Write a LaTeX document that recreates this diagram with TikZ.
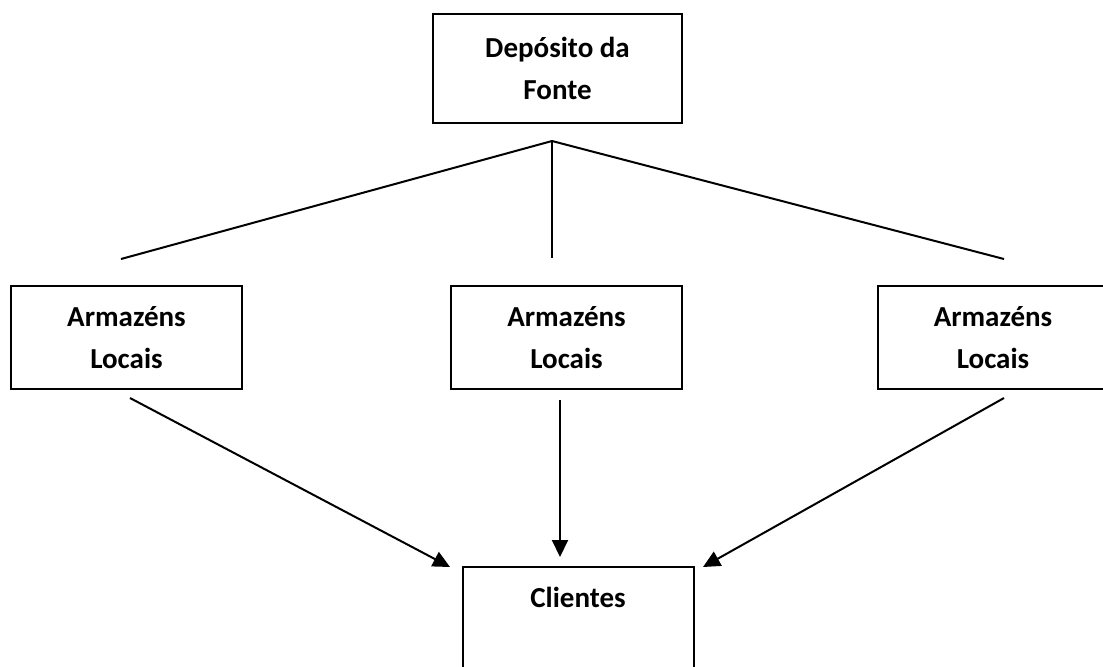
\documentclass[tikz,border=0pt]{standalone}
\usepackage{fontspec}
\setmainfont{Carlito}
\usetikzlibrary{arrows.meta}

\begin{document}
\begin{tikzpicture}[x=0.5pt,y=-0.5pt,line width=1pt,
    caixa/.style={draw,align=center,inner sep=0pt,
      font=\bfseries\fontsize{14.5}{21}\selectfont,
      minimum width=115.5pt,minimum height=51.5pt},
    seta/.style={-{Triangle[length=8.5pt,width=8pt]}}]
    \useasboundingbox (0,0) rectangle (1103,666);
    \clip (0,0) rectangle (1103,666);

    \node[caixa,minimum width=124.5pt,minimum height=54.5pt] (deposito) at (557.5,68.5) {Depósito da\\Fonte};
    \node[caixa] (arm1) at (126.5,337.5) {Armazéns\\Locais};
    \node[caixa] (arm2) at (566.5,337.5) {Armazéns\\Locais};
    \node[caixa] (arm3) at (993,337.5) {Armazéns\\Locais};
    \node[caixa] (clientes) at (578,618.5) {Clientes\\\mbox{}};

    % ramos do deposito
    \coordinate (topo) at (552,141);
    \coordinate (r1) at (121,259);
    \coordinate (r2) at (552,258);
    \coordinate (r3) at (1004,259);
    \draw (topo) -- (r1);
    \draw (topo) -- (r2);
    \draw (topo) -- (r3);

    % setas para os clientes
    \coordinate (s1) at (130,398);
    \coordinate (s2) at (560,400);
    \coordinate (s3) at (1004,398);
    \coordinate (e1) at (450,567);
    \coordinate (e2) at (560,557);
    \coordinate (e3) at (703,567);
    \draw[seta] (s1) -- (e1);
    \draw[seta] (s2) -- (e2);
    \draw[seta] (s3) -- (e3);
  \end{tikzpicture}
\end{document}
